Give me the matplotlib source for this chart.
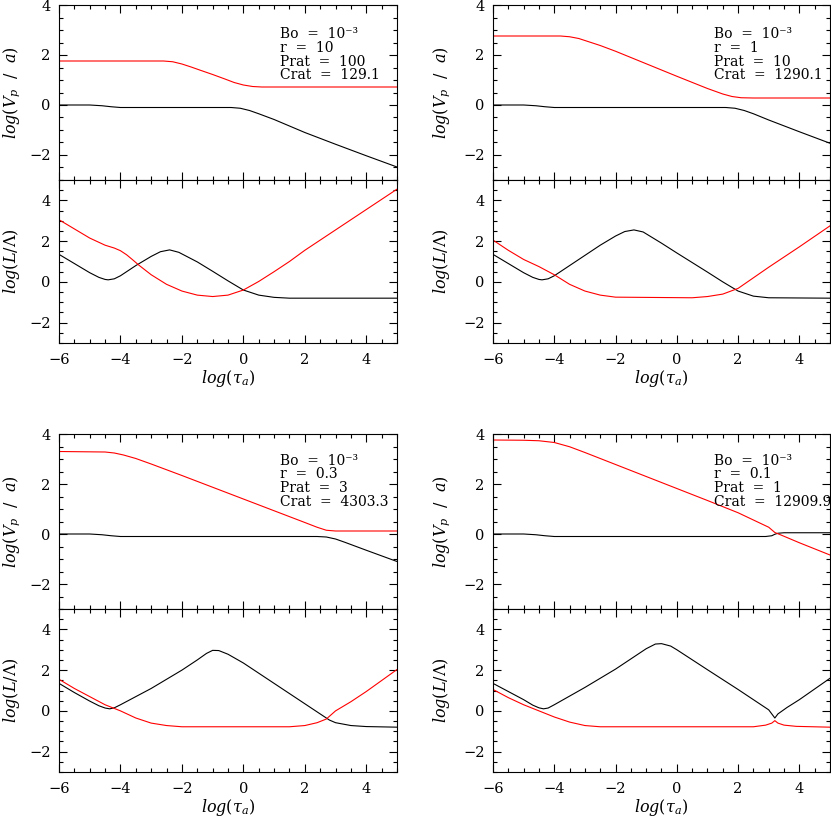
#two-panel stacks of log(V_p/a) and log(L/Lambda) vs log(tau_a), four parameter sets

import numpy as np
import matplotlib
matplotlib.use("Agg")
import matplotlib.pyplot as plt
from matplotlib.ticker import MultipleLocator

plt.rcParams['font.family'] = ['DejaVu Serif']
plt.rcParams['mathtext.fontset'] = 'dejavuserif'

# annotations per panel (r = 10, 1, 0.3, 0.1)
r_labels = ["10", "1", "0.3", "0.1"]
prat_labels = ["100", "10", "3", "1"]
crat_labels = ["129.1", "1290.1", "4303.3", "12909.9"]

# ---- panel 1 : r = 10
vp_black_x_1 = [-6, -5, -4.6, -4.3, -4, -3, -1, -0.4, -0.1, 0.2, 0.5, 1, 2, 3, 4, 5]
vp_black_y_1 = [0, 0, -0.03, -0.07, -0.1, -0.1, -0.1, -0.1, -0.13, -0.22, -0.35, -0.58, -1.1, -1.57, -2.03, -2.48]
vp_red_x_1 = [-6, -2.6, -2.3, -2.0, -1.7, -1.4, -1.0, -0.6, -0.3, 0, 0.3, 0.6, 5]
vp_red_y_1 = [1.76, 1.76, 1.73, 1.64, 1.52, 1.39, 1.22, 1.04, 0.9, 0.8, 0.74, 0.72, 0.72]
ll_black_x_1 = [-6, -5.5, -5, -4.7, -4.5, -4.4, -4.2, -4, -3.5, -3, -2.7, -2.4, -2.1, -1.5, -1, -0.5, 0, 0.5, 1, 1.5, 2, 5]
ll_black_y_1 = [1.35, 0.9, 0.45, 0.22, 0.12, 0.1, 0.15, 0.3, 0.8, 1.25, 1.48, 1.57, 1.45, 0.98, 0.52, 0.05, -0.4, -0.65, -0.76, -0.8, -0.8, -0.8]
ll_red_x_1 = [-6, -5.5, -5, -4.5, -4.2, -4, -3.8, -3.6, -3.4, -3, -2.5, -2, -1.5, -1, -0.5, 0, 0.5, 1, 1.5, 2, 3, 4, 5]
ll_red_y_1 = [3.05, 2.6, 2.15, 1.8, 1.66, 1.53, 1.33, 1.08, 0.82, 0.35, -0.12, -0.45, -0.65, -0.72, -0.65, -0.4, 0.02, 0.5, 1.0, 1.55, 2.55, 3.55, 4.55]

# ---- panel 2 : r = 1
vp_black_x_2 = [-6, -5, -4.6, -4.3, -4, 0, 1.6, 1.9, 2.2, 2.5, 3, 4, 5]
vp_black_y_2 = [0, 0, -0.03, -0.07, -0.1, -0.1, -0.1, -0.13, -0.22, -0.35, -0.6, -1.07, -1.53]
vp_red_x_2 = [-6, -3.8, -3.5, -3.2, -3, -2.5, -2, -1, 0, 1, 1.5, 1.8, 2.1, 2.5, 5]
vp_red_y_2 = [2.76, 2.76, 2.73, 2.66, 2.58, 2.38, 2.15, 1.65, 1.15, 0.66, 0.44, 0.34, 0.29, 0.28, 0.28]
ll_black_x_2 = [-6, -5.5, -5, -4.7, -4.5, -4.4, -4.2, -4, -3.5, -3, -2.5, -2, -1.7, -1.4, -1.1, -0.5, 0, 0.5, 1, 1.5, 2, 2.5, 3, 5]
ll_black_y_2 = [1.35, 0.9, 0.45, 0.22, 0.12, 0.1, 0.15, 0.3, 0.8, 1.3, 1.8, 2.25, 2.47, 2.55, 2.45, 1.9, 1.42, 0.95, 0.48, 0.0, -0.45, -0.7, -0.78, -0.8]
ll_red_x_2 = [-6, -5.5, -5, -4.5, -4, -3.5, -3, -2.5, -2, 0.5, 1, 1.5, 2, 2.5, 3, 4, 5]
ll_red_y_2 = [2.05, 1.55, 1.1, 0.75, 0.35, -0.12, -0.45, -0.65, -0.75, -0.78, -0.72, -0.6, -0.32, 0.2, 0.72, 1.72, 2.75]

# ---- panel 3 : r = 0.3
vp_black_x_3 = [-6, -5, -4.6, -4.3, -4, 0, 2.4, 2.7, 3, 3.3, 4, 5]
vp_black_y_3 = [0, 0, -0.03, -0.07, -0.1, -0.1, -0.1, -0.12, -0.2, -0.33, -0.65, -1.1]
vp_red_x_3 = [-6, -4.5, -4.2, -3.9, -3.5, -3, -2, -1, 0, 1, 2, 2.4, 2.7, 3, 5]
vp_red_y_3 = [3.3, 3.28, 3.24, 3.16, 3.02, 2.8, 2.34, 1.87, 1.4, 0.93, 0.46, 0.27, 0.15, 0.12, 0.12]
ll_black_x_3 = [-6, -5.5, -5, -4.7, -4.5, -4.35, -4.2, -4, -3, -2, -1.5, -1.2, -1, -0.8, -0.5, 0, 1, 2, 2.5, 2.8, 3, 3.5, 4, 5]
ll_black_y_3 = [1.35, 0.9, 0.48, 0.25, 0.14, 0.1, 0.15, 0.3, 1.1, 2.0, 2.5, 2.82, 2.97, 2.96, 2.78, 2.35, 1.35, 0.35, -0.15, -0.45, -0.58, -0.72, -0.77, -0.8]
ll_red_x_3 = [-6, -5.5, -5, -4.5, -4, -3.5, -3, -2.5, -2, 1.5, 2, 2.4, 2.7, 3, 3.5, 4, 5]
ll_red_y_3 = [1.55, 1.1, 0.7, 0.3, 0.0, -0.35, -0.6, -0.72, -0.78, -0.78, -0.72, -0.58, -0.4, 0.0, 0.45, 0.95, 2.03]

# ---- panel 4 : r = 0.1
vp_black_x_4 = [-6, -5, -4.6, -4.3, -4, 2.9, 3.1, 3.2, 3.3, 3.5, 5]
vp_black_y_4 = [0, 0, -0.03, -0.07, -0.1, -0.1, -0.07, -0.01, 0.03, 0.05, 0.05]
vp_red_x_4 = [-6, -5, -4.5, -4, -3.5, -3, -2, -1, 0, 1, 2, 2.5, 3, 3.2, 3.4, 4, 5]
vp_red_y_4 = [3.76, 3.75, 3.73, 3.66, 3.49, 3.26, 2.78, 2.3, 1.82, 1.34, 0.85, 0.56, 0.27, 0.06, -0.04, -0.35, -0.84]
ll_black_x_4 = [-6, -5.5, -5, -4.7, -4.5, -4.35, -4.2, -4, -3, -2, -1.5, -1, -0.7, -0.5, -0.2, 0, 1, 2, 3, 3.2, 3.3, 3.6, 4, 5]
ll_black_y_4 = [1.35, 0.95, 0.55, 0.28, 0.15, 0.1, 0.14, 0.3, 1.15, 2.05, 2.55, 3.05, 3.28, 3.3, 3.18, 3.0, 2.02, 1.05, 0.05, -0.35, -0.15, 0.17, 0.55, 1.6]
ll_red_x_4 = [-6, -5.5, -5, -4.5, -4, -3.5, -3, -2.5, 2.5, 2.9, 3.1, 3.2, 3.3, 3.5, 3.9, 5]
ll_red_y_4 = [1.05, 0.65, 0.3, 0.0, -0.3, -0.55, -0.72, -0.78, -0.78, -0.7, -0.6, -0.48, -0.6, -0.7, -0.76, -0.8]

vp_black = [(vp_black_x_1, vp_black_y_1), (vp_black_x_2, vp_black_y_2), (vp_black_x_3, vp_black_y_3), (vp_black_x_4, vp_black_y_4)]
vp_red = [(vp_red_x_1, vp_red_y_1), (vp_red_x_2, vp_red_y_2), (vp_red_x_3, vp_red_y_3), (vp_red_x_4, vp_red_y_4)]
ll_black = [(ll_black_x_1, ll_black_y_1), (ll_black_x_2, ll_black_y_2), (ll_black_x_3, ll_black_y_3), (ll_black_x_4, ll_black_y_4)]
ll_red = [(ll_red_x_1, ll_red_y_1), (ll_red_x_2, ll_red_y_2), (ll_red_x_3, ll_red_y_3), (ll_red_x_4, ll_red_y_4)]

W, H = 831, 817
fig = plt.figure(figsize=(W / 100, H / 100), dpi=100)

# pixel boxes: (left, right), (top of upper, boundary, bottom of lower)
cols = [(59, 397), (493, 830)]
rows = [(5, 180, 343), (434, 609, 772)]

fs = 10.5


def style_axis(ax, ylo, yhi):
    ax.set_xlim(-6, 5)
    ax.set_ylim(ylo, yhi)
    ax.xaxis.set_major_locator(MultipleLocator(2))
    ax.xaxis.set_minor_locator(MultipleLocator(0.5))
    ax.yaxis.set_major_locator(MultipleLocator(2))
    ax.yaxis.set_minor_locator(MultipleLocator(0.5))
    ax.tick_params(which='both', direction='in', top=True, right=True, width=0.8, labelsize=fs)
    ax.tick_params(which='major', length=6)
    ax.tick_params(which='minor', length=3)
    ax.tick_params(axis='x', pad=7)
    ax.tick_params(axis='y', pad=6)
    for s in ax.spines.values():
        s.set_linewidth(0.8)


for i in range(4):
    row, col = divmod(i, 2)
    left, right = cols[col]
    top, mid, bot = rows[row]

    ax1 = fig.add_axes([left / W, 1 - mid / H, (right - left) / W, (mid - top) / H])
    ax2 = fig.add_axes([left / W, 1 - bot / H, (right - left) / W, (bot - mid) / H])

    style_axis(ax1, -3, 4)
    style_axis(ax2, -3, 5)
    ax1.tick_params(labelbottom=False)
    ax2.set_yticks([-2, 0, 2, 4])

    ax1.plot(*vp_black[i], color='black', lw=0.8)
    ax1.plot(*vp_red[i], color='#ff0000', lw=0.8)
    ax2.plot(*ll_black[i], color='black', lw=0.8)
    ax2.plot(*ll_red[i], color='#ff0000', lw=0.8)

    ax1.set_ylabel(r'$log(V_p\ \ /\ \ a)$', fontsize=11.5)
    ax2.set_ylabel(r'$log(L/\Lambda)$', fontsize=11.5)
    ax2.set_xlabel(r'$log(\tau_a)$', fontsize=11.5)
    lab_x = -37 / (right - left) if col == 0 else -41 / (right - left)
    ax1.yaxis.set_label_coords(lab_x, 0.5)
    ax2.yaxis.set_label_coords(lab_x, 0.5)
    ax2.xaxis.set_label_coords(0.5, -25 / (bot - mid))

    block = '\n'.join(['Bo  =  10⁻³', 'r  =  ' + r_labels[i],
                       'Prat  =  ' + prat_labels[i], 'Crat  =  ' + crat_labels[i]])
    y0 = 3.12 if row == 0 else 3.22
    ax1.text(1.2, y0, block, fontsize=10, va='top', ha='left', linespacing=0.98)

fig.savefig('out.png', dpi=100)
